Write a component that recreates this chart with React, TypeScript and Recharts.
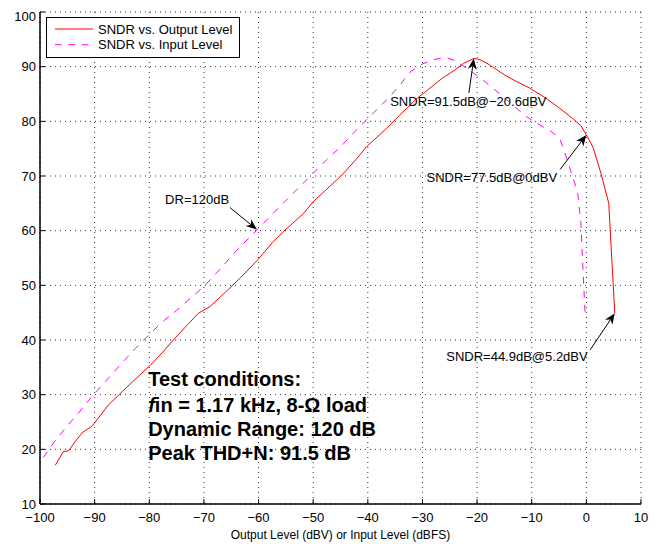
import React from "react";
import {
  LineChart,
  Line,
  XAxis,
  YAxis,
  CartesianGrid,
  Legend,
  ReferenceLine,
  ReferenceDot,
} from "recharts";

const FONT = '"Liberation Sans", Arial, Helvetica, sans-serif';

const xTicks = [-100, -90, -80, -70, -60, -50, -40, -30, -20, -10, 0, 10];
const yTicks = [10, 20, 30, 40, 50, 60, 70, 80, 90, 100];

const seriesNames = ["SNDR vs. Output Level", "SNDR vs. Input Level"];

// SNDR vs. output level (dBV)
const outputLevel = [
  -97.2, -95.7, -94.8, -93.5, -92.1, -90.5, -89.5, -87.5, -84.7, -82.6, -79.8,
  -77.5, -75.6, -73, -71, -68.9, -66, -63.4, -60.1, -57.5, -55.5, -51.8, -50,
  -47.5, -44.8, -42, -40.3, -37, -34.2, -31, -29.1, -26.5, -24.2, -22.5, -20.6,
  -19.5, -18, -16.5, -15, -13, -10.4, -7.5, -4.9, -2.5, -1, 0, 1.2, 2.7, 4.1,
  5.2,
];
const outputSndr = [
  17.1, 19.6, 19.7, 21.5, 23.2, 24.2, 25.5, 28.1, 30.8, 32.8, 35.4, 37.8, 40,
  42.8, 44.9, 46.1, 48.8, 51.3, 54.7, 57.8, 59.8, 63.1, 65.3, 67.6, 70.1, 73.2,
  75.3, 78.3, 81.1, 84.2, 85.7, 87.8, 89.3, 90.6, 91.5, 91.3, 90.5, 89.5, 88.5,
  87.4, 86.1, 84.3, 82.4, 80.5, 79.2, 77.5, 75.3, 70.4, 65, 44.9,
];

// SNDR vs. input level (dBFS)
const inputLevel = [
  -99.4, -97.5, -95, -92.5, -90.3, -87.5, -85, -82.5, -79.8, -77.5, -75, -72.5,
  -70.1, -67, -64, -60.4, -57.5, -55, -52.5, -50, -47.5, -45, -42.5, -40.3, -38,
  -36, -34, -32.3, -30, -27.5, -25.5, -24, -21.3, -18.5, -15.8, -13.5, -10.9,
  -8.5, -6.5, -4.9, -4.1, -3.1, -1.6, -1, -0.6, -0.2,
];
const inputSndr = [
  18.5, 21.2, 24.3, 27.2, 29.9, 33, 35.8, 38.5, 41.2, 43.4, 45.4, 47.6, 49.7,
  53, 56.4, 60, 63, 65.5, 68, 70.5, 73, 75.3, 78, 80.2, 82.5, 84.5, 86.8, 89,
  90.5, 91.4, 91.6, 91.1, 89.3, 87.2, 85, 83, 80.8, 79.3, 78.2, 76.9, 74.7,
  71.7, 67, 61.5, 52.5, 44.2,
];

// annotation arrows: [tailX, tailY, tipX, tipY]
const arrows = [
  [-65.2, 64.2, -60.3, 60.2],
  [-21.5, 85.2, -20.6, 91.5],
  [-4.8, 71.2, 0, 77.5],
  [0.7, 38.2, 5.2, 44.9],
];
const notes = [
  { x: -77.1, y: 65.7, text: "DR=120dB", anchor: "start" },
  { x: -21.6, y: 83.7, text: "SNDR=91.5dB@\u221220.6dBV", anchor: "middle" },
  { x: -17.3, y: 69.8, text: "SNDR=77.5dB@0dBV", anchor: "middle" },
  { x: -12.7, y: 37.0, text: "SNDR=44.9dB@5.2dBV", anchor: "middle" },
];
const conditions = [
  "Test conditions:",
  "fin = 1.17 kHz, 8-\u03A9 load",
  "Dynamic Range: 120 dB",
  "Peak THD+N: 91.5 dB",
];

const outputData = outputLevel.map((x, i) => ({ x, y: outputSndr[i] }));
const inputData = inputLevel.map((x, i) => ({ x, y: inputSndr[i] }));

const fmt = (v: number) => String(v).replace("-", "\u2212");

function Arrow(props: any) {
  const { x1, y1, x2, y2 } = props;
  const a = Math.atan2(y2 - y1, x2 - x1);
  const c = Math.cos(a);
  const s = Math.sin(a);
  const len = 11;
  const half = 4.5;
  const bx = x2 - len * c;
  const by = y2 - len * s;
  const nx = x2 - len * 0.7 * c;
  const ny = y2 - len * 0.7 * s;
  const pts = [
    [x2, y2],
    [bx - half * s, by + half * c],
    [nx, ny],
    [bx + half * s, by - half * c],
  ]
    .map((p) => p.join(","))
    .join(" ");
  return (
    <g>
      <line x1={x1} y1={y1} x2={nx} y2={ny} stroke="#000" strokeWidth={1} />
      <polygon points={pts} fill="#000" />
    </g>
  );
}

function LegendBox(props: any) {
  const items = [...(props.payload || [])].sort(
    (a: any, b: any) => seriesNames.indexOf(a.value) - seriesNames.indexOf(b.value)
  );
  return (
    <svg width={194} height={41} style={{ display: "block" }}>
      <rect x={0.5} y={0.5} width={193} height={40} fill="#fff" stroke="#000" />
      {items.map((it: any, i: number) => {
        const y = 12 + i * 15.7;
        return (
          <g key={it.value}>
            <line
              x1={9}
              x2={47}
              y1={y}
              y2={y}
              stroke={it.color}
              strokeWidth={1}
              strokeDasharray={it.value === seriesNames[1] ? "6.7 6.7" : undefined}
            />
            <text x={52} y={y} dy="0.35em" fontSize={13} fontFamily={FONT} fill="#000">
              {it.value}
            </text>
          </g>
        );
      })}
    </svg>
  );
}

const axisLine = { stroke: "#000", strokeWidth: 1.5 };

export default function App() {
  return (
    <LineChart
      width={654}
      height={536}
      margin={{ top: 4, right: 21, bottom: 0, left: 0 }}
      style={{ fontFamily: FONT }}
    >
      <CartesianGrid stroke="#333" strokeDasharray="1 4" />
      <XAxis
        type="number"
        dataKey="x"
        domain={[-100, 10]}
        ticks={xTicks}
        tickFormatter={fmt}
        height={40}
        stroke="#000"
        axisLine={axisLine}
        tickSize={-5}
        tickMargin={14}
        tick={{ fill: "#000", fontSize: 13 }}
        label={{
          value: "Output Level (dBV) or Input Level (dBFS)",
          position: "insideBottom",
          offset: 5,
          fill: "#000",
          fontSize: 12,
        }}
      />
      <XAxis
        xAxisId="top"
        orientation="top"
        type="number"
        dataKey="x"
        domain={[-100, 10]}
        ticks={xTicks}
        height={0}
        stroke="#000"
        axisLine={axisLine}
        tickSize={-5}
        tick={false}
      />
      <YAxis
        type="number"
        domain={[10, 100]}
        ticks={yTicks}
        width={32}
        stroke="#000"
        axisLine={axisLine}
        tickSize={-5}
        tickMargin={9}
        tick={{ fill: "#000", fontSize: 13 }}
      />
      <YAxis
        yAxisId="right"
        orientation="right"
        type="number"
        domain={[10, 100]}
        ticks={yTicks}
        width={0}
        stroke="#000"
        axisLine={axisLine}
        tickSize={-5}
        tick={false}
      />
      <Legend
        layout="vertical"
        align="center"
        verticalAlign="middle"
        wrapperStyle={{ left: 38, top: 9, width: "auto", height: "auto" }}
        content={<LegendBox />}
      />
      <Line
        data={outputData}
        dataKey="y"
        name={seriesNames[0]}
        stroke="#ff0000"
        strokeWidth={1}
        dot={false}
        type="linear"
        isAnimationActive={false}
      />
      <Line
        data={inputData}
        dataKey="y"
        name={seriesNames[1]}
        stroke="#ff00ff"
        strokeWidth={1}
        strokeDasharray="7 7"
        dot={false}
        type="linear"
        isAnimationActive={false}
      />
      {arrows.map((a, i) => (
        <ReferenceLine
          key={"a" + i}
          segment={[
            { x: a[0], y: a[1] },
            { x: a[2], y: a[3] },
          ]}
          shape={<Arrow />}
        />
      ))}
      {notes.map((n) => (
        <ReferenceDot
          key={n.text}
          x={n.x}
          y={n.y}
          r={0}
          shape={(p: any) => (
            <text
              x={p.cx}
              y={p.cy}
              dy="0.36em"
              textAnchor={n.anchor}
              fontSize={13}
              fontFamily={FONT}
              fill="#000"
            >
              {n.text}
            </text>
          )}
        />
      ))}
      <ReferenceDot
        x={-80.2}
        y={31.5}
        r={0}
        shape={(p: any) => (
          <text x={p.cx} y={p.cy} fontSize={20} fontWeight="bold" fontFamily={FONT} fill="#000">
            {conditions.map((line, i) => (
              <tspan key={i} x={p.cx} dy={i === 0 ? 0 : i === 1 ? 25.5 : 24}>
                {i === 1 ? (
                  <>
                    <tspan fontStyle="italic">f</tspan>
                    {line.slice(1)}
                  </>
                ) : (
                  line
                )}
              </tspan>
            ))}
          </text>
        )}
      />
    </LineChart>
  );
}
